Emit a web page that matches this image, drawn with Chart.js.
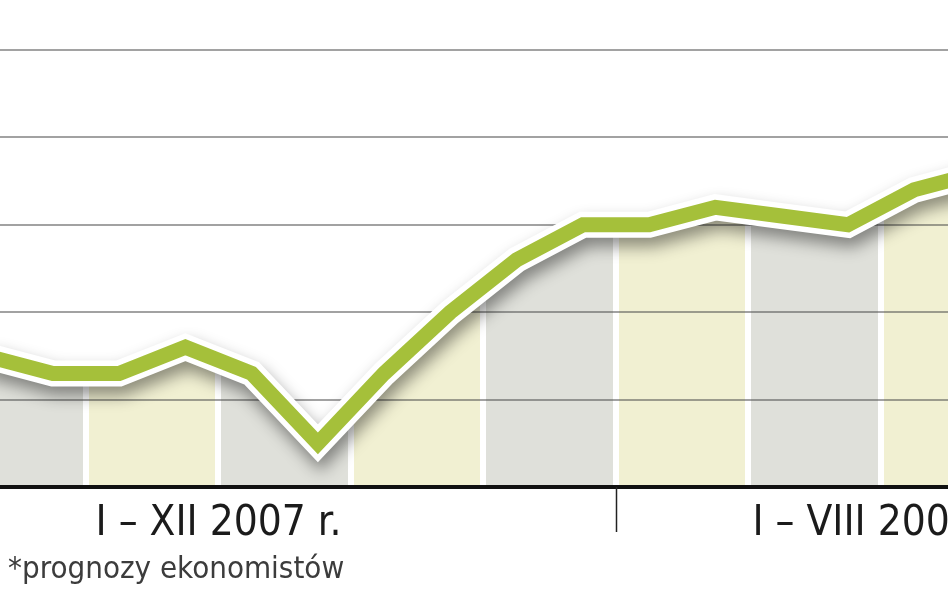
<!DOCTYPE html>
<html>
<head>
<meta charset="utf-8">
<script src="https://cdn.jsdelivr.net/npm/chart.js@4.4.1/dist/chart.umd.min.js"></script>
<style>
  html, body { margin: 0; padding: 0; background: #fff; overflow: hidden; width: 948px; height: 593px; }
  /* the reference is a crop, so the canvas is wider than the window and shifted left */
  #wrap { position: absolute; left: -179px; top: 0; width: 1325px; height: 593px; }
  #note { position: absolute; left: 8px; top: 552px; font: 31px/1 "DejaVu Sans Condensed", sans-serif; color: #3c3c3c; white-space: nowrap; }
</style>
</head>
<body>
<div id="wrap"><canvas id="myChart" width="1325" height="593"></canvas></div>
<div id="note"></div>
<script>
// months I 2007 - VIII 2008; only the part inside the crop could be read
var months = ['I 07','II 07','III 07','IV 07','V 07','VI 07','VII 07','VIII 07','IX 07','X 07','XI 07','XII 07',
              'I 08','II 08','III 08','IV 08','V 08','VI 08','VII 08','VIII 08'];
var values = [null, null, 2.5, 2.3, 2.3, 2.6, 2.3, 1.5, 2.3, 3.0, 3.6, 4.0,
              4.0, 4.2, 4.1, 4.0, 4.4, 4.6, null, null];
var periods = ['I – XII 2007 r.', 'I – VIII 2008 r.'];
var periodMonths = [12, 8];
var yRange = [1, 6];
var footnote = '*prognozy ekonomistów';

document.getElementById('note').textContent = footnote;

var GREEN = '#a5c03a';
var GREY = '#dfe0da';
var CREAM = '#f1f0d2';

// two-month wide stripes under the line, white gap between them
function stripes(context) {
  var chart = context.chart, area = chart.chartArea, x = chart.scales.x;
  if (!area || !x) return CREAM;
  var w = area.right - area.left;
  var step = x.getPixelForValue(1) - x.getPixelForValue(0);
  var f = function (p) { return Math.min(1, Math.max(0, (p - area.left) / w)); };
  var g = chart.ctx.createLinearGradient(area.left, 0, area.right, 0);
  for (var i = 0; i < months.length; i += 2) {
    var a = x.getPixelForValue(i) - step / 2;
    var b = x.getPixelForValue(i + 1) + step / 2;
    var col = (i / 2) % 2 ? GREY : CREAM;
    g.addColorStop(f(a), '#fff');
    g.addColorStop(f(a + 3), '#fff');
    g.addColorStop(f(a + 3), col);
    g.addColorStop(f(b - 3), col);
    g.addColorStop(f(b - 3), '#fff');
    g.addColorStop(f(b), '#fff');
  }
  return g;
}

var decor = {
  id: 'decor',
  beforeDatasetDraw: function (chart, args) {
    if (args.index !== 0) return;
    var ctx = chart.ctx, y = chart.scales.y;
    // grid goes over the stripes but under the line
    ctx.save();
    ctx.strokeStyle = 'rgba(70,70,70,0.5)';
    ctx.lineWidth = 2;
    y.ticks.forEach(function (t) {
      if (t.value === y.min) return;
      var py = Math.round(y.getPixelForValue(t.value));
      ctx.beginPath();
      ctx.moveTo(0, py);
      ctx.lineTo(chart.width, py);
      ctx.stroke();
    });
    ctx.restore();
    ctx.save();
    ctx.shadowColor = 'rgba(0,0,0,0.42)';
    ctx.shadowBlur = 16;
    ctx.shadowOffsetX = 3;
    ctx.shadowOffsetY = 9;
  },
  afterDatasetDraw: function (chart, args) {
    if (args.index === 0) chart.ctx.restore();
  },
  afterDraw: function (chart) {
    var ctx = chart.ctx, x = chart.scales.x, y = chart.scales.y;
    var base = y.getPixelForValue(y.min);
    ctx.save();
    ctx.fillStyle = '#111';
    ctx.fillRect(0, base - 2, chart.width, 4);

    var start = 0;
    ctx.font = '42px "DejaVu Sans Condensed", sans-serif';
    ctx.textAlign = 'center';
    ctx.textBaseline = 'alphabetic';
    periods.forEach(function (p, k) {
      var end = start + periodMonths[k] - 1;
      var cx = (x.getPixelForValue(start) + x.getPixelForValue(end)) / 2;
      ctx.fillStyle = '#1b1b1b';
      ctx.fillText(p, cx, base + 48);
      if (k > 0) {
        var sx = Math.round((x.getPixelForValue(start - 1) + x.getPixelForValue(start)) / 2) + 0.5;
        ctx.strokeStyle = '#222';
        ctx.lineWidth = 1.5;
        ctx.beginPath();
        ctx.moveTo(sx, base);
        ctx.lineTo(sx, base + 45);
        ctx.stroke();
      }
      start = end + 1;
    });
    ctx.restore();
  }
};

var ctx = document.getElementById('myChart');
var myChart = new Chart(ctx, {
  type: 'line',
  data: {
    labels: months,
    datasets: [{
      // white casing + shadow, also carries the striped fill
      data: values,
      borderColor: '#fff',
      borderWidth: 26,
      borderJoinStyle: 'miter',
      backgroundColor: stripes,
      fill: 'start',
      pointRadius: 0,
      tension: 0,
      order: 2
    }, {
      data: values,
      borderColor: GREEN,
      borderWidth: 15,
      borderJoinStyle: 'miter',
      fill: false,
      pointRadius: 0,
      tension: 0,
      order: 1
    }]
  },
  options: {
    responsive: false,
    animation: false,
    events: [],
    layout: { padding: { left: 0, right: 0, top: 50, bottom: 106 } },
    plugins: { legend: { display: false }, tooltip: { enabled: false } },
    scales: {
      x: { display: false, offset: true },
      y: { display: false, min: yRange[0], max: yRange[1], ticks: { stepSize: 1 } }
    }
  },
  plugins: [decor]
});
</script>
</body>
</html>
